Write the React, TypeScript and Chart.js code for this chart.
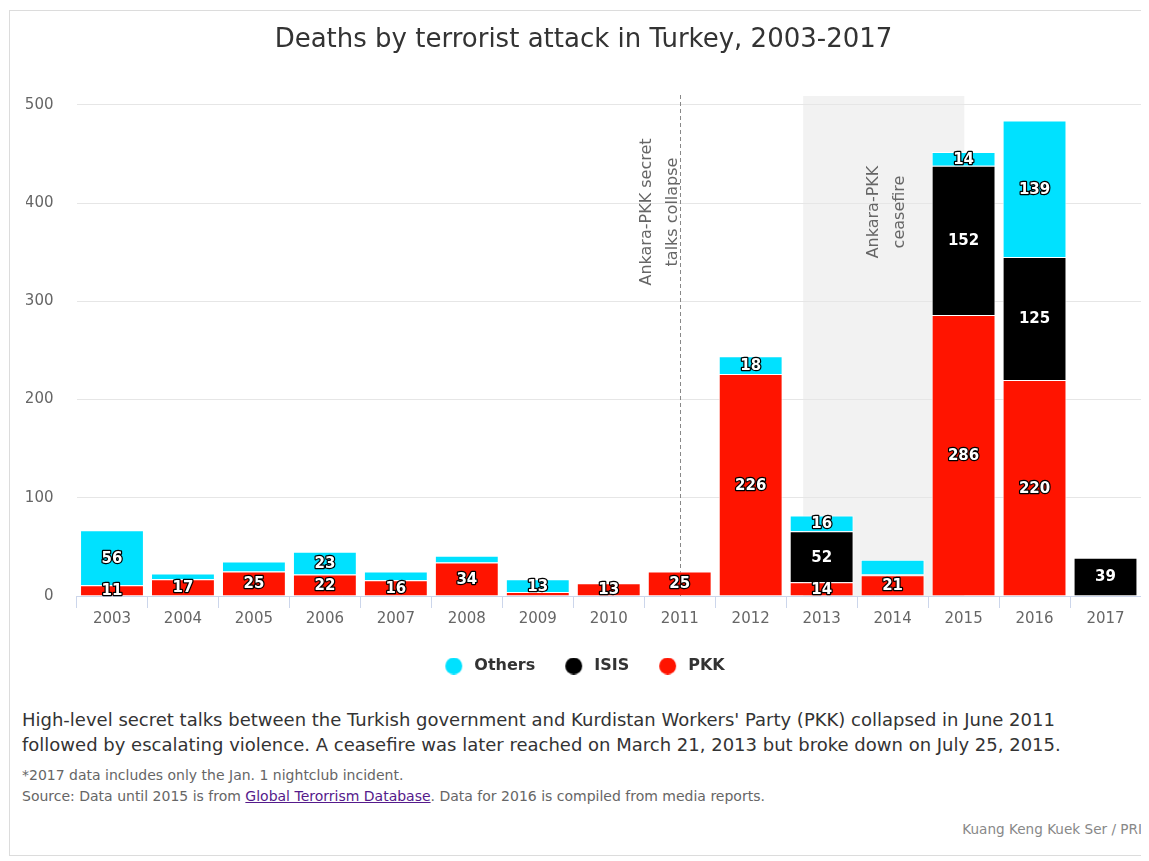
import React, { useEffect, useRef } from 'react';
import { Chart, registerables } from 'chart.js';

Chart.register(...registerables);

const years = ['2003', '2004', '2005', '2006', '2007', '2008', '2009', '2010', '2011', '2012', '2013', '2014', '2015', '2016', '2017'];
const pkk = [11, 17, 25, 22, 16, 34, 4, 13, 25, 226, 14, 21, 286, 220, null];
const isis = [null, null, null, null, null, null, null, null, null, null, 52, 1, 152, 125, 39];
const others = [56, 6, 10, 23, 9, 7, 13, null, null, 18, 16, 15, 14, 139, null];

const yTicks = [0, 100, 200, 300, 400, 500];
const yMax = 509;

// category positions (index units) of annotations
const talksCollapseAt = 8;
const ceasefireFrom = 9.74;
const ceasefireTo = 12.01;
const talksLabel = ['Ankara-PKK secret', 'talks collapse'];
const ceasefireLabel = ['Ankara-PKK', 'ceasefire'];

const titleText = 'Deaths by terrorist attack in Turkey, 2003-2017';

const CHART_FONT = '"DejaVu Sans", Verdana, sans-serif';

function circleImage(color: string) {
  const c = document.createElement('canvas');
  c.width = 24;
  c.height = 17;
  const g = c.getContext('2d')!;
  g.fillStyle = color;
  g.beginPath();
  g.arc(11.5, 8.5, 8.5, 0, Math.PI * 2);
  g.fill();
  return c;
}

const annotationPlugin = {
  id: 'annotations',
  beforeDraw(chart: any) {
    const { ctx, chartArea, scales } = chart;
    const x = scales.x;
    const x1 = x.getPixelForValue(ceasefireFrom);
    const x2 = x.getPixelForValue(ceasefireTo);
    ctx.save();
    ctx.fillStyle = '#f2f2f2';
    ctx.fillRect(x1, chartArea.top, x2 - x1, chartArea.bottom - chartArea.top);
    ctx.restore();
  },
  beforeDatasetsDraw(chart: any) {
    const { ctx, chartArea, scales } = chart;
    const x = scales.x;
    const lx = Math.round(x.getPixelForValue(talksCollapseAt)) + 0.5;
    ctx.save();
    ctx.strokeStyle = '#888';
    ctx.lineWidth = 1;
    ctx.setLineDash([4, 3]);
    ctx.beginPath();
    ctx.moveTo(lx, chartArea.top - 1);
    ctx.lineTo(lx, chartArea.bottom);
    ctx.stroke();
    ctx.setLineDash([]);

    const drawRotated = (lines: string[], cx: number, cy: number, lh: number) => {
      ctx.save();
      ctx.translate(cx, cy);
      ctx.rotate(-Math.PI / 2);
      ctx.font = '16px ' + CHART_FONT;
      ctx.fillStyle = '#666';
      ctx.textAlign = 'center';
      ctx.textBaseline = 'middle';
      lines.forEach((t, i) => {
        ctx.fillText(t, 0, (i - (lines.length - 1) / 2) * lh);
      });
      ctx.restore();
    };
    const cy = chartArea.top + 116;
    drawRotated(talksLabel, lx - 21, cy, 26);
    const bx1 = x.getPixelForValue(ceasefireFrom);
    const bx2 = x.getPixelForValue(ceasefireTo);
    drawRotated(ceasefireLabel, (bx1 + bx2) / 2 + 3, cy, 25.5);
    ctx.restore();
  },
};

const stackLabelPlugin = {
  id: 'stackLabels',
  afterDatasetsDraw(chart: any) {
    const { ctx } = chart;
    ctx.save();
    ctx.font = 'bold 15px ' + CHART_FONT;
    ctx.textAlign = 'center';
    ctx.textBaseline = 'middle';
    ctx.lineJoin = 'round';
    const nCats = chart.data.labels.length;
    for (let i = 0; i < nCats; i++) {
      const cands: { x: number; y: number; v: number }[] = [];
      chart.data.datasets.forEach((ds: any, di: number) => {
        const v = ds.data[i];
        if (v == null || v === 0) return;
        const el = chart.getDatasetMeta(di).data[i];
        if (!el) return;
        const p = el.getProps(['x', 'y', 'base'], true);
        cands.push({ x: p.x, y: (p.y + p.base) / 2, v });
      });
      cands.sort((a, b) => b.v - a.v);
      const accepted: typeof cands = [];
      cands.forEach((c) => {
        if (accepted.every((a) => Math.abs(a.y - c.y) >= 21)) accepted.push(c);
      });
      accepted.forEach((c) => {
        const t = String(c.v);
        ctx.lineWidth = 2.5;
        ctx.strokeStyle = '#000';
        ctx.strokeText(t, c.x, c.y + 1);
        ctx.fillStyle = '#fff';
        ctx.fillText(t, c.x, c.y + 1);
      });
    }
    ctx.restore();
  },
};

function ChartBox() {
  const ref = useRef<HTMLCanvasElement>(null);
  useEffect(() => {
    if (!ref.current) return;
    const chart = new Chart(ref.current, {
      type: 'bar',
      data: {
        labels: years,
        datasets: [
          { label: 'PKK', data: pkk, backgroundColor: '#ff1400', borderColor: '#ffffff', borderWidth: 1, barPercentage: 0.9, categoryPercentage: 1 },
          { label: 'ISIS', data: isis, backgroundColor: '#000000', borderColor: '#ffffff', borderWidth: 1, barPercentage: 0.9, categoryPercentage: 1 },
          { label: 'Others', data: others, backgroundColor: '#00e1ff', borderColor: '#ffffff', borderWidth: 1, barPercentage: 0.9, categoryPercentage: 1 },
        ],
      },
      options: {
        responsive: false,
        animation: false,
        layout: { padding: { left: 16, right: 3, top: 0, bottom: 0 } },
        plugins: {
          title: {
            display: true,
            text: titleText,
            color: '#333333',
            font: { family: CHART_FONT, size: 26, weight: 'normal' },
            padding: { top: 13.8, bottom: 40 },
          },
          legend: {
            position: 'bottom',
            reverse: true,
            labels: {
              usePointStyle: true,
              pointStyleWidth: 24,
              boxHeight: 16,
              padding: 27,
              color: '#333333',
              font: { family: CHART_FONT, size: 16, weight: 'bold', lineHeight: 1 },
              generateLabels: (chart: any) => {
                const items = Chart.defaults.plugins.legend.labels.generateLabels(chart);
                return items.map((it: any) => {
                  const ds = chart.data.datasets[it.datasetIndex];
                  return { ...it, pointStyle: circleImage(ds.backgroundColor), lineWidth: 0 };
                });
              },
            },
          },
          tooltip: { enabled: false },
        },
        scales: {
          x: {
            stacked: true,
            grid: { offset: true, drawOnChartArea: false, drawTicks: true, tickLength: 12, color: '#ccd6eb' },
            border: { color: '#ccd6eb' },
            ticks: { color: '#666666', font: { family: CHART_FONT, size: 15, lineHeight: 1 }, padding: 4, maxRotation: 0 },
          },
          y: {
            stacked: true,
            min: 0,
            max: yMax,
            grid: { color: '#e6e6e6', drawTicks: false },
            border: { display: false },
            ticks: { color: '#666666', font: { family: CHART_FONT, size: 15 }, padding: 23, includeBounds: false, stepSize: 100 },
            afterBuildTicks: (scale: any) => {
              scale.ticks = yTicks.map((v) => ({ value: v }));
            },
            afterFit: (scale: any) => {
              scale.width = 50.5;
            },
          },
        },
      },
      plugins: [annotationPlugin, stackLabelPlugin],
    } as any);
    return () => chart.destroy();
  }, []);
  return <canvas ref={ref} width={1134} height={673} style={{ position: 'absolute', left: 0, top: 0, width: 1134, height: 673 }} />;
}

const TEXT_FONT = '"DejaVu Sans", Verdana, sans-serif';

export default function App() {
  return (
    <div
      style={{
        position: 'relative',
        width: 1134,
        height: 844,
        borderTop: '1px solid #dcdcdc',
        borderLeft: '1px solid #dcdcdc',
        borderBottom: '1px solid #dcdcdc',
        marginTop: 2,
        marginLeft: 1,
        background: '#fff',
        fontFamily: TEXT_FONT,
      }}
    >
      <ChartBox />
      <div style={{ position: 'absolute', left: 12, top: 696, width: 1120, fontSize: 18, lineHeight: '25px', color: '#333', whiteSpace: 'nowrap' }}>
        High-level secret talks between the Turkish government and Kurdistan Workers' Party (PKK) collapsed in June 2011
        <br />
        followed by escalating violence. A ceasefire was later reached on March 21, 2013 but broke down on July 25, 2015.
      </div>
      <div style={{ position: 'absolute', left: 12, top: 754, fontSize: 14, lineHeight: '21px', color: '#666', whiteSpace: 'nowrap' }}>
        <div>*2017 data includes only the Jan. 1 nightclub incident.</div>
        <div>
          Source: Data until 2015 is from{' '}
          <a href="#" style={{ color: '#551a8b' }}>
            Global Terorrism Database
          </a>
          . Data for 2016 is compiled from media reports.
        </div>
      </div>
      <div style={{ position: 'absolute', right: 2, top: 808, fontSize: 13.6, lineHeight: '20px', color: '#888', whiteSpace: 'nowrap' }}>
        Kuang Keng Kuek Ser / PRI
      </div>
    </div>
  );
}
